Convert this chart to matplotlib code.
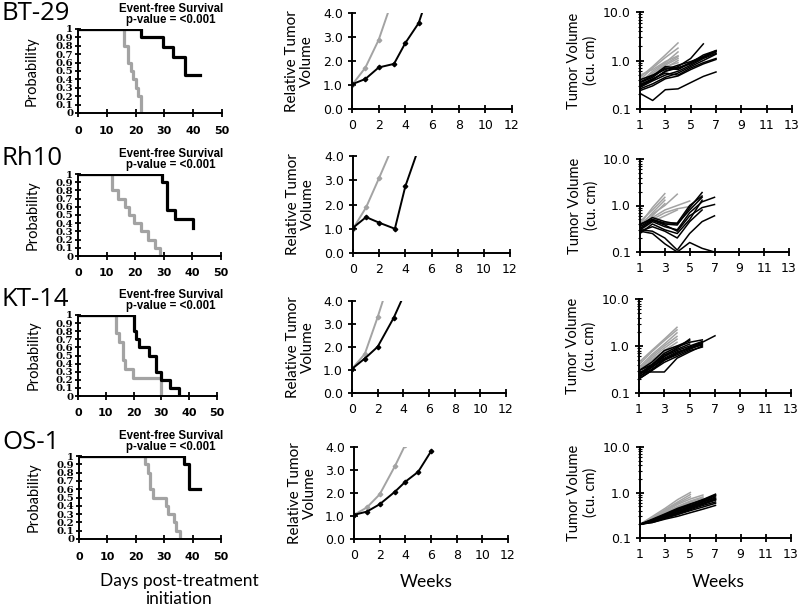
import matplotlib
matplotlib.use('Agg')
import matplotlib.pyplot as plt
from matplotlib.ticker import FixedLocator, LogLocator, NullFormatter

W, H = 800, 607

GRAY = '#a3a3a3'
BLACK = '#000000'

models = ['BT-29', 'Rh10', 'KT-14', 'OS-1']

# Kaplan-Meier curves: (times, probability)
km_control_t = [
    [0, 16, 17.5, 18.5, 19, 20, 21, 22],
    [0, 12, 14, 16.5, 18, 19.5, 22, 24.5, 27, 28.5],
    [0, 13.7, 14.9, 16.1, 17, 19.7, 29.9],
    [0, 23.3, 24.2, 25, 25.9, 30.6, 31.5, 33.3, 34.1, 35.4],
]
km_control_p = [
    [1, 0.8, 0.6, 0.5, 0.4, 0.3, 0.2, 0],
    [1, 0.8, 0.7, 0.6, 0.5, 0.4, 0.3, 0.2, 0.1, 0],
    [1, 0.78, 0.67, 0.44, 0.33, 0.22, 0],
    [1, 0.9, 0.8, 0.6, 0.5, 0.4, 0.3, 0.2, 0.1, 0],
]
km_treated_t = [
    [0, 22, 29.5, 33, 37, 42.5],
    [0, 29.5, 31, 34, 40.3],
    [0, 20, 21, 22, 25.5, 28, 30, 33, 36.3],
    [0, 37.1, 38.9, 42.6],
]
km_treated_p = [
    [1, 0.9, 0.78, 0.67, 0.45, 0.45],
    [1, 0.9, 0.56, 0.45, 0.34],
    [1, 0.8, 0.7, 0.6, 0.5, 0.3, 0.2, 0.1, 0],
    [1, 0.9, 0.6, 0.6],
]

# relative tumor volume (median), weeks
rtv_control_w = [
    [0, 1, 2, 3],
    [0, 1, 2, 3],
    [0, 1, 2, 3],
    [0, 1, 2, 3.2, 4],
]
rtv_control_v = [
    [1.0, 1.72, 2.88, 4.5],
    [1.0, 1.88, 3.1, 4.35],
    [1.05, 1.7, 3.3, 5.05],
    [1.05, 1.37, 1.94, 3.18, 4.1],
]
rtv_treated_w = [
    [0, 1, 2, 3.15, 4, 5, 6],
    [0, 1, 2, 3.2, 4, 5],
    [0, 1, 2, 3.25, 4],
    [0, 1, 2, 3.2, 4, 5, 6],
]
rtv_treated_v = [
    [1.03, 1.25, 1.73, 1.88, 2.75, 3.58, 5.25],
    [1.04, 1.48, 1.25, 1.0, 2.75, 4.3],
    [1.05, 1.5, 2.01, 3.27, 4.2],
    [1.05, 1.19, 1.51, 2.06, 2.49, 2.92, 3.81],
]

# individual tumor volumes (cu. cm), weeks start at 1
vol_control = [
    [[0.45, 0.75, 1.3, 2.3], [0.4, 0.7, 1.15, 1.8], [0.35, 0.6, 0.9, 1.5],
     [0.3, 0.55, 0.85, 1.2], [0.38, 0.5, 0.8, 1.1], [0.28, 0.45, 0.7, 1.0],
     [0.33, 0.5, 0.75, 0.9], [0.5, 0.65, 0.95, 1.25]],
    [[0.4, 0.9, 1.8], [0.45, 0.8, 1.5], [0.35, 0.7, 1.3], [0.3, 0.6, 1.1],
     [0.4, 0.65, 1.0, 1.75], [0.35, 0.55, 0.8, 1.0, 1.25],
     [0.3, 0.5, 0.7, 0.85, 0.95], [0.28, 0.45, 0.6, 0.8]],
    [[0.45, 0.8, 1.4, 2.5], [0.4, 0.75, 1.3, 2.2], [0.35, 0.65, 1.1, 1.9],
     [0.3, 0.6, 1.0, 1.6], [0.33, 0.55, 0.9, 1.4], [0.28, 0.5, 0.8, 1.2],
     [0.3, 0.5, 0.75, 1.0], [0.25, 0.45, 0.7, 0.9]],
    [[0.2, 0.3, 0.45, 0.7, 1.0], [0.2, 0.28, 0.42, 0.62, 0.9],
     [0.2, 0.27, 0.4, 0.58, 0.8], [0.2, 0.26, 0.38, 0.55, 0.72, 0.88],
     [0.2, 0.25, 0.36, 0.5, 0.65, 0.8], [0.2, 0.26, 0.35, 0.48, 0.62, 0.75],
     [0.2, 0.24, 0.33, 0.45, 0.6, 0.72]],
]
vol_treated = [
    [[0.21, 0.15, 0.25, 0.26, 0.35, 0.47, 0.58], [0.3, 0.4, 0.6, 0.75, 1.1, 2.2],
     [0.35, 0.45, 0.7, 0.65, 0.9, 1.2, 1.6], [0.3, 0.4, 0.6, 0.7, 0.85, 1.15, 1.5],
     [0.28, 0.38, 0.5, 0.6, 0.8, 1.1, 1.4], [0.32, 0.42, 0.55, 0.5, 0.7, 0.9, 1.1],
     [0.4, 0.5, 0.65, 0.8, 0.95, 1.2, 1.55], [0.26, 0.33, 0.45, 0.55, 0.75, 1.0, 1.35],
     [0.36, 0.48, 0.75, 0.7, 0.9, 1.3, 1.6], [0.24, 0.3, 0.42, 0.48, 0.65, 0.85, 1.05]],
    [[0.28, 0.25, 0.15, 0.1, 0.16, 0.12, 0.1], [0.3, 0.28, 0.2, 0.11, 0.25, 0.45, 0.6],
     [0.35, 0.5, 0.4, 0.38, 0.9, 1.9], [0.38, 0.55, 0.45, 0.4, 0.8, 1.5],
     [0.3, 0.45, 0.35, 0.3, 0.7, 1.2, 1.5], [0.32, 0.48, 0.38, 0.28, 0.6, 0.9, 1.05],
     [0.25, 0.4, 0.3, 0.25, 0.5, 1.3], [0.28, 0.35, 0.28, 0.2, 0.45, 0.8],
     [0.4, 0.5, 0.42, 0.42, 1.0, 1.6]],
    [[0.22, 0.35, 0.6, 0.9, 1.4], [0.25, 0.4, 0.7, 0.95, 1.2, 1.35],
     [0.2, 0.3, 0.5, 0.7, 0.95, 1.2, 1.65], [0.28, 0.28, 0.28, 0.55, 0.75, 1.0],
     [0.3, 0.4, 0.6, 0.8, 1.0, 1.25], [0.22, 0.32, 0.5, 0.65, 0.85, 1.1],
     [0.25, 0.35, 0.55, 0.75, 0.9, 1.05], [0.2, 0.3, 0.45, 0.6, 0.8, 0.95],
     [0.3, 0.45, 0.8, 1.0, 1.3], [0.24, 0.38, 0.65, 0.85, 1.1],
     [0.27, 0.36, 0.52, 0.7, 0.9, 1.15]],
    [[0.2, 0.22, 0.26, 0.3, 0.36, 0.43, 0.52], [0.2, 0.24, 0.3, 0.38, 0.48, 0.62, 0.8],
     [0.2, 0.25, 0.32, 0.42, 0.55, 0.7, 0.92], [0.2, 0.24, 0.3, 0.4, 0.5, 0.62, 0.75],
     [0.2, 0.23, 0.28, 0.35, 0.44, 0.55, 0.68], [0.2, 0.25, 0.33, 0.43, 0.52, 0.65, 0.85],
     [0.2, 0.22, 0.27, 0.33, 0.42, 0.52, 0.62], [0.2, 0.24, 0.31, 0.39, 0.47, 0.57, 0.7],
     [0.2, 0.23, 0.29, 0.36, 0.46, 0.58, 0.72], [0.2, 0.26, 0.34, 0.45, 0.56, 0.68, 0.88],
     [0.2, 0.23, 0.28, 0.33, 0.4, 0.48, 0.58]],
]

# axes boxes in pixels (left, top, right, bottom)
km_boxes = [(78, 29, 222, 113), (78, 174, 221, 256), (78, 315, 217, 396), (79, 456, 221, 539)]
rtv_boxes = [(352, 13, 512, 109), (353, 156, 510, 253), (352, 301, 506, 393), (354, 447, 508, 539)]
vol_boxes = [(640, 12, 792, 109), (640, 159, 789, 252), (639, 299, 791, 393), (640, 447, 791, 538)]
name_base = [20, 165, 306, 449]


def box(b):
    l, t, r, bt = b
    return [l / W, 1 - bt / H, (r - l) / W, (bt - t) / H]


def style(ax):
    for s in ['top', 'right']:
        ax.spines[s].set_visible(False)
    for s in ['left', 'bottom']:
        ax.spines[s].set_linewidth(1.4)
    ax.tick_params(direction='inout', length=6, width=1.3, labelsize=9)


fig = plt.figure(figsize=(W / 100, H / 100), dpi=100)

for i, name in enumerate(models):
    # survival
    ax = fig.add_axes(box(km_boxes[i]))
    style(ax)
    ax.step(km_control_t[i], km_control_p[i], where='post', color=GRAY, lw=2.3)
    ax.step(km_treated_t[i], km_treated_p[i], where='post', color=BLACK, lw=2.3)
    ax.set_xlim(0, 50)
    ax.set_ylim(0, 1)
    ax.set_xticks(range(0, 51, 10))
    yt = [k / 10 for k in range(11)]
    ax.set_yticks(yt)
    ax.set_yticklabels(['%g' % v for v in yt], family='DejaVu Serif', weight='bold', fontsize=7.3)
    ax.set_xticklabels([str(v) for v in range(0, 51, 10)], weight='bold', fontsize=8)
    ax.tick_params(axis='y', pad=1, length=5)
    ax.tick_params(axis='x', pad=6)
    ax.set_ylabel('Probability', family='Lato', fontsize=10.5)
    ax.yaxis.set_label_coords(-0.27, 0.5)

    l, t, r, b = km_boxes[i]
    fig.text(2 / W, 1 - name_base[i] / H, name, family='Open Sans', fontsize=18.5,
             va='baseline', ha='left')
    fig.text(171 / W, 1 - (t - 20) / H, 'Event-free Survival', family='Liberation Sans',
             weight='bold', fontsize=8.3, ha='center', va='center')
    fig.text(171 / W, 1 - (t - 9) / H, 'p-value = <0.001', family='Liberation Sans',
             weight='bold', fontsize=8.3, ha='center', va='center')

    # relative tumor volume
    ax = fig.add_axes(box(rtv_boxes[i]))
    style(ax)
    ax.plot(rtv_control_w[i], rtv_control_v[i], color=GRAY, lw=1.4, marker='D', ms=2.3)
    ax.plot(rtv_treated_w[i], rtv_treated_v[i], color=BLACK, lw=1.4, marker='D', ms=2.3)
    ax.set_xlim(0, 12)
    ax.set_ylim(0, 4)
    ax.set_xticks(range(0, 13, 2))
    ax.set_yticks([0, 1, 2, 3, 4])
    ax.set_yticklabels(['%.1f' % v for v in [0, 1, 2, 3, 4]])
    ax.tick_params(axis='x', pad=4)
    ax.set_ylabel('Relative Tumor\nVolume', family='Lato', fontsize=11, linespacing=1.1)
    ax.yaxis.set_label_coords(-0.24, 0.5)

    # individual tumor volumes
    ax = fig.add_axes(box(vol_boxes[i]))
    style(ax)
    for v in vol_control[i]:
        ax.plot(range(1, len(v) + 1), v, color=GRAY, lw=1.1)
    for v in vol_treated[i]:
        ax.plot(range(1, len(v) + 1), v, color=BLACK, lw=1.1)
    ax.set_yscale('log')
    ax.set_xlim(1, 13)
    ax.set_ylim(0.1, 10)
    ax.set_xticks(range(1, 14, 2))
    ax.yaxis.set_major_locator(FixedLocator([0.1, 1, 10]))
    ax.set_yticklabels(['0.1', '1.0', '10.0'])
    ax.yaxis.set_minor_locator(LogLocator(base=10, subs=range(2, 10)))
    ax.yaxis.set_minor_formatter(NullFormatter())
    ax.tick_params(axis='y', which='minor', direction='inout', length=3, width=0.8)
    ax.tick_params(axis='x', pad=4)
    ax.set_ylabel('Tumor Volume\n(cu. cm)', family='Lato', fontsize=10.5, linespacing=1.2)
    ax.yaxis.set_label_coords(-0.28, 0.5)

fig.text(179 / W, 1 - 590 / H, 'Days post-treatment\ninitiation', family='Lato', fontsize=12.5,
         ha='center', va='center', linespacing=1.1)
fig.text(426 / W, 1 - 582 / H, 'Weeks', family='Lato', fontsize=12.5, ha='center', va='center')
fig.text(718 / W, 1 - 582 / H, 'Weeks', family='Lato', fontsize=12.5, ha='center', va='center')

fig.savefig('out.png', dpi=100)
